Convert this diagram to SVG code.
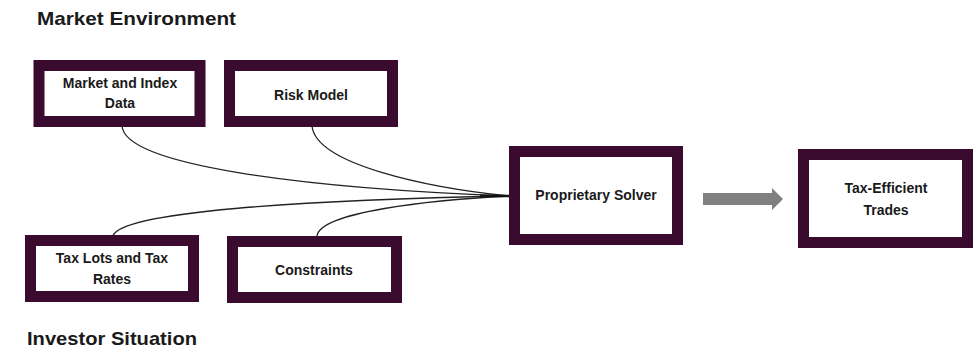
<svg xmlns="http://www.w3.org/2000/svg" width="977" height="350" viewBox="0 0 977 350">
<style>
.box{fill:#fff;stroke:#3a0a2f;stroke-width:11}
.t{font-family:"Liberation Sans",Arial,sans-serif;font-weight:bold;font-size:14px;fill:#1a1a1a;text-anchor:middle}
.h{font-family:"Liberation Sans",Arial,sans-serif;font-weight:bold;font-size:19px;fill:#1a1a1a}
.c{fill:none;stroke:#222;stroke-width:1.3}
</style>
<rect width="977" height="350" fill="#fff"/>
<text class="h" x="37" y="25" textLength="199" lengthAdjust="spacingAndGlyphs">Market Environment</text>
<text class="h" x="27" y="345" textLength="170" lengthAdjust="spacingAndGlyphs">Investor Situation</text>
<g id="connectors">
<path class="c" d="M122,126 C125,165 300,188 509,196"/>
<path class="c" d="M312,126 C316,165 430,188 509,196"/>
<path class="c" d="M113,236 C120,212 300,200 509,196"/>
<path class="c" d="M317,236 C320,212 430,200 509,196"/>
<path d="M480,196 L509,196" stroke="#111" stroke-width="2.5"/>
<polygon points="703,193 772,193 772,188 783,199 772,210 772,205 703,205" fill="#808080"/>
</g>
<g id="market-data">
<rect class="box" x="39" y="65.5" width="161" height="56"/>
<text class="t" x="120" y="88">Market and Index</text>
<text class="t" x="120" y="108">Data</text>
</g>
<g id="risk-model">
<rect class="box" x="229.5" y="65.5" width="163" height="56"/>
<text class="t" x="311" y="100">Risk Model</text>
</g>
<g id="tax-lots">
<rect class="box" x="30.5" y="240.5" width="163" height="56"/>
<text class="t" x="112" y="263">Tax Lots and Tax</text>
<text class="t" x="112" y="284">Rates</text>
</g>
<g id="constraints">
<rect class="box" x="232.5" y="241.5" width="164" height="56"/>
<text class="t" x="314" y="275">Constraints</text>
</g>
<g id="solver">
<rect class="box" x="514.5" y="151.5" width="163" height="88"/>
<text class="t" x="596" y="200">Proprietary Solver</text>
</g>
<g id="trades">
<rect class="box" x="803.5" y="154.5" width="164" height="88"/>
<text class="t" x="886" y="193">Tax-Efficient</text>
<text class="t" x="886" y="215">Trades</text>
</g>
</svg>
